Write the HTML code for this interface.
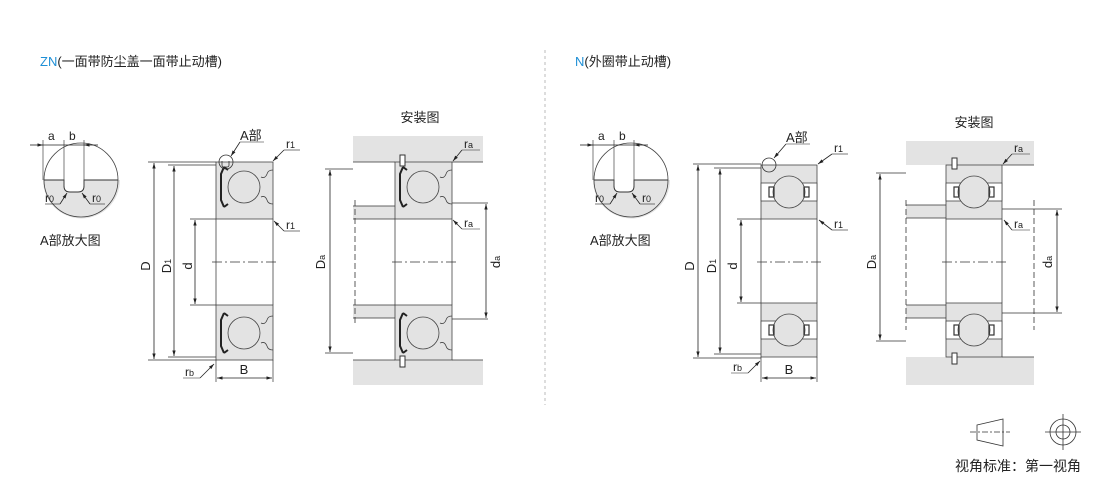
<!DOCTYPE html>
<html><head><meta charset="utf-8"><style>
body{margin:0;background:#fff}
svg{display:block}
text{font-family:"Liberation Sans","Noto Sans CJK SC",sans-serif;fill:#222}
</style></head><body>
<svg width="1110" height="479" viewBox="0 0 1110 479" xmlns="http://www.w3.org/2000/svg">
<defs>
<marker id="ar" viewBox="0 0 10 10" refX="10" refY="5" markerWidth="7" markerHeight="7" orient="auto-start-reverse"><path d="M0,2 L10,5 L0,8z" fill="#222"/></marker>
<g id="zn">
 <rect x="0" y="0" width="57" height="57" fill="#e3e3e3" stroke="#444" stroke-width="0.8"/>
 <rect x="0" y="143" width="57" height="55" fill="#e3e3e3" stroke="#444" stroke-width="0.8"/>
 <line x1="0" y1="57" x2="0" y2="143" stroke="#444" stroke-width="0.8"/>
 <line x1="57" y1="57" x2="57" y2="143" stroke="#444" stroke-width="0.8"/>
 <circle cx="28" cy="25" r="16" fill="#e3e3e3" stroke="#444" stroke-width="0.8"/>
 <circle cx="28" cy="171" r="16" fill="#e3e3e3" stroke="#444" stroke-width="0.8"/>
 <path d="M8,5 L5,12 L5,38 L8,45 M8,5 L12,8 M8,45 L12,42" fill="none" stroke="#222" stroke-width="2"/>
 <path d="M8,151 L5,158 L5,184 L8,191 M8,151 L12,154 M8,191 L12,188" fill="none" stroke="#222" stroke-width="2"/>
 <path d="M57,8 q-5,0 -6,4 q-2,5 -6,3 M57,42 q-5,0 -6,-4 q-2,-5 -6,-3" fill="none" stroke="#444" stroke-width="0.8"/>
 <path d="M57,154 q-5,0 -6,4 q-2,5 -6,3 M57,188 q-5,0 -6,-4 q-2,-5 -6,-3" fill="none" stroke="#444" stroke-width="0.8"/>
</g>
<g id="nb">
 <rect x="0" y="0" width="56" height="54" fill="#e3e3e3" stroke="#444" stroke-width="0.8"/>
 <rect x="0" y="138" width="56" height="54" fill="#e3e3e3" stroke="#444" stroke-width="0.8"/>
 <rect x="0" y="18" width="56" height="18" fill="#fff" stroke="#444" stroke-width="0.8"/>
 <rect x="0" y="156" width="56" height="18" fill="#fff" stroke="#444" stroke-width="0.8"/>
 <line x1="0" y1="54" x2="0" y2="138" stroke="#444" stroke-width="0.8"/>
 <line x1="56" y1="54" x2="56" y2="138" stroke="#444" stroke-width="0.8"/>
 <circle cx="28" cy="27" r="16" fill="#e3e3e3" stroke="#444" stroke-width="0.8"/>
 <circle cx="28" cy="165" r="16" fill="#e3e3e3" stroke="#444" stroke-width="0.8"/>
 <rect x="8" y="22" width="5" height="10" fill="none" stroke="#333" stroke-width="1.2"/>
 <rect x="43" y="22" width="5" height="10" fill="none" stroke="#333" stroke-width="1.2"/>
 <rect x="8" y="160" width="5" height="10" fill="none" stroke="#333" stroke-width="1.2"/>
 <rect x="43" y="160" width="5" height="10" fill="none" stroke="#333" stroke-width="1.2"/>
</g>
</defs>

<text x="40" y="66" font-size="13"><tspan fill="#1e8fd6">ZN</tspan>(一面带防尘盖一面带止动槽)</text>
<text x="575" y="66" font-size="13"><tspan fill="#1e8fd6">N</tspan>(外圈带止动槽)</text>
<line x1="545" y1="50" x2="545" y2="405" stroke="#bbb" stroke-dasharray="3,3"/>

<!-- detail A left -->
<g id="detA">
<path d="M43,180 L120,180 A37,37 0 0 1 43,180z" fill="#e3e3e3"/>
<circle cx="81" cy="180" r="37" fill="none" stroke="#444" stroke-width="0.8"/>
<path d="M44,180 L64,180 L64,186 q0,6 6,6 l8,0 q6,0 6,-6 L84,180 L118,180" fill="#fff" stroke="#333" stroke-width="1"/>
<line x1="43" y1="140" x2="43" y2="180" stroke="#444" stroke-width="0.7"/>
<line x1="64" y1="140" x2="64" y2="186" stroke="#444" stroke-width="0.7"/>
<line x1="84" y1="140" x2="84" y2="186" stroke="#444" stroke-width="0.7"/>
<line x1="30" y1="145" x2="43" y2="145" stroke="#222" stroke-width="0.8" marker-end="url(#ar)"/>
<line x1="64" y1="145" x2="43" y2="145" stroke="#222" stroke-width="0.8"/>
<line x1="64" y1="145" x2="84" y2="145" stroke="#222" stroke-width="0.8"/>
<line x1="98" y1="145" x2="84" y2="145" stroke="#222" stroke-width="0.8" marker-end="url(#ar)"/>
<text x="48" y="140" font-size="12">a</text><text x="69" y="140" font-size="12">b</text>
<text x="45" y="202" font-size="12">r<tspan font-size="9">0</tspan></text>
<line x1="45" y1="204" x2="60" y2="204" stroke="#222" stroke-width="0.6"/>
<line x1="60" y1="204" x2="67" y2="193" stroke="#222" stroke-width="0.8" marker-end="url(#ar)"/>
<text x="92" y="202" font-size="12">r<tspan font-size="9">0</tspan></text>
<line x1="90" y1="204" x2="105" y2="204" stroke="#222" stroke-width="0.6"/>
<line x1="90" y1="204" x2="82" y2="193" stroke="#222" stroke-width="0.8" marker-end="url(#ar)"/>
<text x="40" y="245" font-size="13">A部放大图</text>
</g>
<use href="#detA" transform="translate(550,0)"/>

<!-- left bearing -->
<use href="#zn" transform="translate(216,162)"/>
<g stroke="#333" stroke-width="0.7" fill="none">
<line x1="148" y1="162" x2="216" y2="162"/><line x1="148" y1="360" x2="216" y2="360"/>
<line x1="168" y1="165" x2="216" y2="165"/><line x1="168" y1="357" x2="216" y2="357"/>
<line x1="190" y1="219" x2="216" y2="219"/><line x1="190" y1="305" x2="216" y2="305"/>
<line x1="216" y1="360" x2="216" y2="382"/><line x1="273" y1="360" x2="273" y2="382"/>
<line x1="212" y1="262" x2="278" y2="262" stroke-dasharray="10,3,2,3"/>
</g>
<g stroke="#222" stroke-width="0.8">
<line x1="154" y1="163" x2="154" y2="359" marker-start="url(#ar)" marker-end="url(#ar)"/>
<line x1="174" y1="166" x2="174" y2="356" marker-start="url(#ar)" marker-end="url(#ar)"/>
<line x1="195" y1="220" x2="195" y2="304" marker-start="url(#ar)" marker-end="url(#ar)"/>
<line x1="217" y1="378" x2="272" y2="378" marker-start="url(#ar)" marker-end="url(#ar)"/>
</g>
<circle cx="226" cy="162" r="7" fill="none" stroke="#333" stroke-width="0.8"/>
<path d="M222,161 l0,4 q0,2 2,2 l3,0 q2,0 2,-2 l0,-4" fill="none" stroke="#333" stroke-width="0.8"/>
<text x="150" y="266" font-size="13" transform="rotate(-90 150 266)" text-anchor="middle">D</text>
<text x="171" y="266" font-size="13" transform="rotate(-90 171 266)" text-anchor="middle">D<tspan font-size="9">1</tspan></text>
<text x="192" y="266" font-size="13" transform="rotate(-90 192 266)" text-anchor="middle">d</text>
<text x="244" y="374" font-size="13" text-anchor="middle">B</text>
<text x="240" y="140" font-size="13">A部</text>
<line x1="240" y1="142" x2="264" y2="142" stroke="#222" stroke-width="0.6"/>
<line x1="240" y1="142" x2="231" y2="156" stroke="#222" stroke-width="0.8" marker-end="url(#ar)"/>
<text x="286" y="148" font-size="12">r<tspan font-size="9">1</tspan></text>
<line x1="284" y1="150" x2="300" y2="150" stroke="#222" stroke-width="0.6"/>
<line x1="284" y1="150" x2="273" y2="161" stroke="#222" stroke-width="0.8" marker-end="url(#ar)"/>
<text x="286" y="229" font-size="12">r<tspan font-size="9">1</tspan></text>
<line x1="284" y1="231" x2="300" y2="231" stroke="#222" stroke-width="0.6"/>
<line x1="284" y1="231" x2="274" y2="221" stroke="#222" stroke-width="0.8" marker-end="url(#ar)"/>
<text x="185" y="376" font-size="12">r<tspan font-size="9">b</tspan></text>
<line x1="183" y1="378" x2="200" y2="378" stroke="#222" stroke-width="0.6"/>
<line x1="200" y1="378" x2="214" y2="364" stroke="#222" stroke-width="0.8" marker-end="url(#ar)"/>

<!-- left mounting -->
<text x="420" y="122" font-size="13" text-anchor="middle">安装图</text>
<rect x="353" y="136" width="130" height="26" fill="#e3e3e3"/>
<rect x="353" y="360" width="130" height="25" fill="#e3e3e3"/>
<rect x="353" y="206" width="42" height="13" fill="#e3e3e3"/>
<rect x="353" y="305" width="42" height="13" fill="#e3e3e3"/>
<use href="#zn" transform="translate(395,162)"/>
<g stroke="#333" stroke-width="0.8">
<line x1="353" y1="162" x2="395" y2="162"/><line x1="452" y1="162" x2="483" y2="162"/>
<line x1="353" y1="360" x2="395" y2="360"/><line x1="452" y1="360" x2="483" y2="360"/>
<line x1="353" y1="206" x2="395" y2="206"/><line x1="353" y1="219" x2="395" y2="219"/>
<line x1="353" y1="305" x2="395" y2="305"/><line x1="353" y1="318" x2="395" y2="318"/>
<line x1="452" y1="203" x2="488" y2="203"/><line x1="452" y1="319" x2="488" y2="319"/>
<line x1="325" y1="169" x2="353" y2="169"/><line x1="325" y1="353" x2="353" y2="353"/>
<line x1="355" y1="200" x2="355" y2="325" stroke-dasharray="6,3"/>
<line x1="392" y1="262" x2="458" y2="262" stroke-dasharray="10,3,2,3"/>
</g>
<rect x="400" y="155" width="5" height="11" fill="#fff" stroke="#333"/>
<rect x="400" y="356" width="5" height="11" fill="#fff" stroke="#333"/>
<g stroke="#222" stroke-width="0.8">
<line x1="330" y1="170" x2="330" y2="352" marker-start="url(#ar)" marker-end="url(#ar)"/>
<line x1="486" y1="204" x2="486" y2="318" marker-start="url(#ar)" marker-end="url(#ar)"/>
</g>
<text x="325" y="262" font-size="13" transform="rotate(-90 325 262)" text-anchor="middle">D<tspan font-size="9">a</tspan></text>
<text x="500" y="262" font-size="13" transform="rotate(-90 500 262)" text-anchor="middle">d<tspan font-size="9">a</tspan></text>
<text x="464" y="148" font-size="12">r<tspan font-size="9">a</tspan></text>
<line x1="462" y1="150" x2="480" y2="150" stroke="#222" stroke-width="0.6"/>
<line x1="462" y1="150" x2="453" y2="161" stroke="#222" stroke-width="0.8" marker-end="url(#ar)"/>
<text x="464" y="227" font-size="12">r<tspan font-size="9">a</tspan></text>
<line x1="462" y1="229" x2="480" y2="229" stroke="#222" stroke-width="0.6"/>
<line x1="462" y1="229" x2="453" y2="220" stroke="#222" stroke-width="0.8" marker-end="url(#ar)"/>

<!-- right bearing -->
<use href="#nb" transform="translate(761,165)"/>
<g stroke="#333" stroke-width="0.7" fill="none">
<line x1="693" y1="164" x2="761" y2="164"/><line x1="693" y1="358" x2="761" y2="358"/>
<line x1="714" y1="168" x2="761" y2="168"/><line x1="714" y1="354" x2="761" y2="354"/>
<line x1="737" y1="219" x2="761" y2="219"/><line x1="737" y1="303" x2="761" y2="303"/>
<line x1="761" y1="357" x2="761" y2="382"/><line x1="817" y1="357" x2="817" y2="382"/>
<line x1="757" y1="262" x2="823" y2="262" stroke-dasharray="10,3,2,3"/>
</g>
<g stroke="#222" stroke-width="0.8">
<line x1="698" y1="165" x2="698" y2="357" marker-start="url(#ar)" marker-end="url(#ar)"/>
<line x1="720" y1="169" x2="720" y2="353" marker-start="url(#ar)" marker-end="url(#ar)"/>
<line x1="741" y1="220" x2="741" y2="302" marker-start="url(#ar)" marker-end="url(#ar)"/>
<line x1="762" y1="378" x2="816" y2="378" marker-start="url(#ar)" marker-end="url(#ar)"/>
</g>
<circle cx="769" cy="165" r="7" fill="none" stroke="#333" stroke-width="0.8"/>
<text x="694" y="266" font-size="13" transform="rotate(-90 694 266)" text-anchor="middle">D</text>
<text x="716" y="266" font-size="13" transform="rotate(-90 716 266)" text-anchor="middle">D<tspan font-size="9">1</tspan></text>
<text x="737" y="266" font-size="13" transform="rotate(-90 737 266)" text-anchor="middle">d</text>
<text x="789" y="374" font-size="13" text-anchor="middle">B</text>
<text x="786" y="142" font-size="13">A部</text>
<line x1="786" y1="144" x2="810" y2="144" stroke="#222" stroke-width="0.6"/>
<line x1="786" y1="144" x2="774" y2="158" stroke="#222" stroke-width="0.8" marker-end="url(#ar)"/>
<text x="834" y="152" font-size="12">r<tspan font-size="9">1</tspan></text>
<line x1="832" y1="154" x2="848" y2="154" stroke="#222" stroke-width="0.6"/>
<line x1="832" y1="154" x2="818" y2="164" stroke="#222" stroke-width="0.8" marker-end="url(#ar)"/>
<text x="834" y="228" font-size="12">r<tspan font-size="9">1</tspan></text>
<line x1="832" y1="230" x2="848" y2="230" stroke="#222" stroke-width="0.6"/>
<line x1="832" y1="230" x2="819" y2="220" stroke="#222" stroke-width="0.8" marker-end="url(#ar)"/>
<text x="733" y="371" font-size="12">r<tspan font-size="9">b</tspan></text>
<line x1="731" y1="373" x2="748" y2="373" stroke="#222" stroke-width="0.6"/>
<line x1="748" y1="373" x2="760" y2="361" stroke="#222" stroke-width="0.8" marker-end="url(#ar)"/>

<!-- right mounting -->
<text x="974" y="127" font-size="13" text-anchor="middle">安装图</text>
<rect x="906" y="141" width="128" height="24" fill="#e3e3e3"/>
<rect x="906" y="357" width="128" height="28" fill="#e3e3e3"/>
<rect x="906" y="205" width="40" height="13" fill="#e3e3e3"/>
<rect x="906" y="305" width="40" height="13" fill="#e3e3e3"/>
<use href="#nb" transform="translate(946,165)"/>
<g stroke="#333" stroke-width="0.8">
<line x1="1002" y1="165" x2="1034" y2="165"/><line x1="1002" y1="357" x2="1034" y2="357"/>
<line x1="906" y1="205" x2="946" y2="205"/><line x1="906" y1="218" x2="946" y2="218"/>
<line x1="906" y1="305" x2="946" y2="305"/><line x1="906" y1="318" x2="946" y2="318"/>
<line x1="1002" y1="209" x2="1062" y2="209"/><line x1="1002" y1="313" x2="1062" y2="313"/>
<line x1="876" y1="173" x2="906" y2="173"/><line x1="876" y1="341" x2="906" y2="341"/>
<line x1="906" y1="200" x2="906" y2="330" stroke-dasharray="6,3"/>
<line x1="1034" y1="200" x2="1034" y2="330" stroke-dasharray="6,3"/>
<line x1="942" y1="262" x2="1008" y2="262" stroke-dasharray="10,3,2,3"/>
</g>
<rect x="952" y="158" width="5" height="11" fill="#fff" stroke="#333"/>
<rect x="952" y="353" width="5" height="11" fill="#fff" stroke="#333"/>
<g stroke="#222" stroke-width="0.8">
<line x1="880" y1="174" x2="880" y2="340" marker-start="url(#ar)" marker-end="url(#ar)"/>
<line x1="1057" y1="210" x2="1057" y2="312" marker-start="url(#ar)" marker-end="url(#ar)"/>
</g>
<text x="876" y="262" font-size="13" transform="rotate(-90 876 262)" text-anchor="middle">D<tspan font-size="9">a</tspan></text>
<text x="1052" y="262" font-size="13" transform="rotate(-90 1052 262)" text-anchor="middle">d<tspan font-size="9">a</tspan></text>
<text x="1014" y="152" font-size="12">r<tspan font-size="9">a</tspan></text>
<line x1="1012" y1="154" x2="1030" y2="154" stroke="#222" stroke-width="0.6"/>
<line x1="1012" y1="154" x2="1003" y2="164" stroke="#222" stroke-width="0.8" marker-end="url(#ar)"/>
<text x="1014" y="228" font-size="12">r<tspan font-size="9">a</tspan></text>
<line x1="1012" y1="230" x2="1030" y2="230" stroke="#222" stroke-width="0.6"/>
<line x1="1012" y1="230" x2="1004" y2="220" stroke="#222" stroke-width="0.8" marker-end="url(#ar)"/>

<!-- projection symbol -->
<g stroke="#333" stroke-width="0.8" fill="none">
<path d="M977,425 L1003,419 L1003,446 L977,440z"/>
<line x1="970" y1="432" x2="1010" y2="432" stroke-dasharray="6,2,2,2"/>
<circle cx="1063" cy="432" r="13"/><circle cx="1063" cy="432" r="7"/>
<line x1="1045" y1="432" x2="1081" y2="432"/><line x1="1063" y1="414" x2="1063" y2="450"/>
</g>
<text x="955" y="471" font-size="14">视角标准：第一视角</text>
</svg>
</body></html>
